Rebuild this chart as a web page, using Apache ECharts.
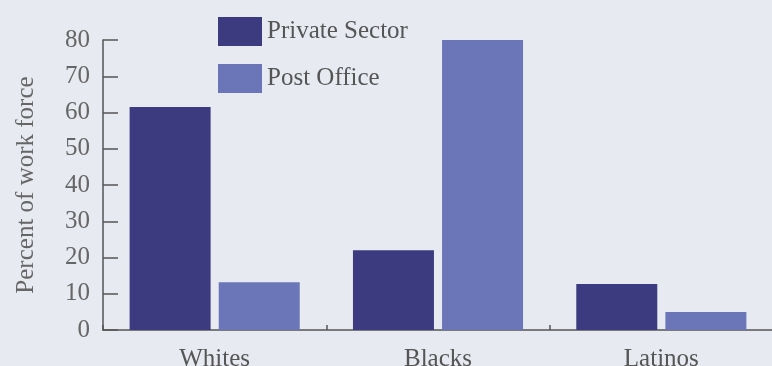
<!DOCTYPE html>
<html>
<head>
<meta charset="utf-8">
<script src="https://cdn.jsdelivr.net/npm/echarts@6/dist/echarts.min.js"></script>
<style>
  html, body { margin: 0; padding: 0; background: #e8eaf2; }
  #chart { width: 772px; height: 366px; }
</style>
</head>
<body>
<div id="chart"></div>
<script>
// 数据
const categories = ['Whites', 'Blacks', 'Latinos']
const privateSector = [61.5, 22, 12.7]
const postOffice = [13.2, 80.3, 5]
const seriesNames = ['Private Sector', 'Post Office']

const serif = '"Liberation Serif", "DejaVu Serif", serif'

const myChart = echarts.init(document.getElementById('chart'))
myChart.setOption({
  backgroundColor: '#e8eaf2',
  animation: false,
  // 图例
  legend: {
    orient: 'vertical',
    left: 218,
    top: 17,
    padding: 0,
    itemWidth: 44,
    itemHeight: 29,
    itemGap: 18,
    itemTextGap: 4,
    icon: 'rect',
    textStyle: { fontFamily: serif, fontSize: 25, color: '#555' },
    data: seriesNames
  },
  grid: {
    left: 103,
    top: 40,
    width: 670,
    height: 290,
    outerBoundsMode: 'none'
  },
  xAxis: {
    type: 'category',
    data: categories,
    axisLine: { lineStyle: { color: '#555', width: 1.5 } },
    axisTick: { show: true, inside: true, length: 5, lineStyle: { color: '#555', width: 1.5 } },
    axisLabel: { fontFamily: serif, fontSize: 25, color: '#555', margin: 17 }
  },
  yAxis: {
    type: 'value',
    min: 0,
    max: 80,
    interval: 10,
    name: 'Percent of work force',
    nameLocation: 'middle',
    nameGap: 64,
    nameTextStyle: { fontFamily: serif, fontSize: 25, color: '#666' },
    splitLine: { show: false },
    axisLine: { show: true, lineStyle: { color: '#555', width: 1.5 } },
    axisTick: { show: true, inside: true, length: 15, lineStyle: { color: '#555', width: 1.5 } },
    axisLabel: { fontFamily: serif, fontSize: 25, color: '#666', margin: 13 }
  },
  series: [
    {
      name: seriesNames[0],
      type: 'bar',
      barWidth: 81,
      barGap: '10%',
      itemStyle: { color: '#3d3b80' },
      data: privateSector
    },
    {
      name: seriesNames[1],
      type: 'bar',
      barWidth: 81,
      itemStyle: { color: '#6a76b8' },
      data: postOffice
    }
  ]
})
</script>
</body>
</html>
